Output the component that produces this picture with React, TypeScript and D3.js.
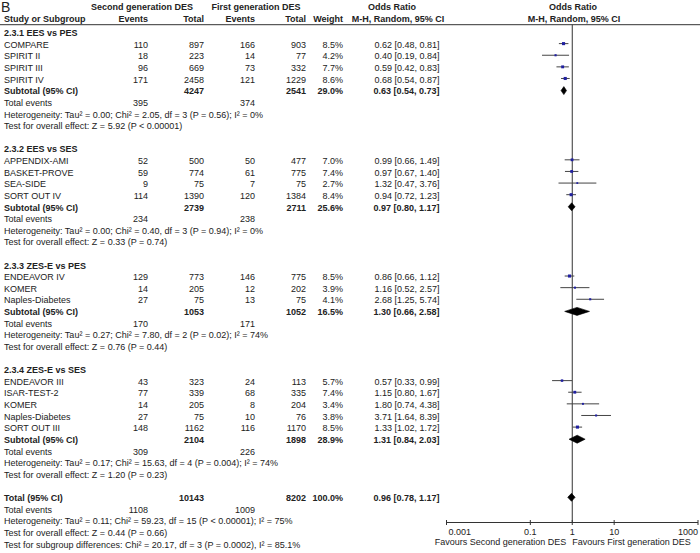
import React from 'react';
import * as d3 from 'd3';

const groupTitles = ['2.3.1 EES vs PES', '2.3.2 EES vs SES', '2.3.3 ZES-E vs PES', '2.3.4 ZES-E vs SES'];
const studyNames = ['COMPARE', 'SPIRIT II', 'SPIRIT III', 'SPIRIT IV', 'APPENDIX-AMI', 'BASKET-PROVE', 'SEA-SIDE', 'SORT OUT IV', 'ENDEAVOR IV', 'KOMER', 'Naples-Diabetes', 'ENDEAVOR III', 'ISAR-TEST-2', 'KOMER', 'Naples-Diabetes', 'SORT OUT III'];
const studyGroup = [0, 0, 0, 0, 1, 1, 1, 1, 2, 2, 2, 3, 3, 3, 3, 3];
const eventsSecond = [110, 18, 96, 171, 52, 59, 9, 114, 129, 14, 27, 43, 77, 14, 27, 148];
const totalSecond = [897, 223, 669, 2458, 500, 774, 75, 1390, 773, 205, 75, 323, 339, 205, 75, 1162];
const eventsFirst = [166, 14, 73, 121, 50, 61, 7, 120, 146, 12, 13, 24, 68, 8, 10, 116];
const totalFirst = [903, 77, 332, 1229, 477, 775, 75, 1384, 775, 202, 75, 113, 335, 204, 76, 1170];
const weights = [8.5, 4.2, 7.7, 8.6, 7.0, 7.4, 2.7, 8.4, 8.5, 3.9, 4.1, 5.7, 7.4, 3.4, 3.8, 8.5];
const oddsRatio = [0.62, 0.40, 0.59, 0.68, 0.99, 0.97, 1.32, 0.94, 0.86, 1.16, 2.68, 0.57, 1.15, 1.80, 3.71, 1.33];
const ciLower = [0.48, 0.19, 0.42, 0.54, 0.66, 0.67, 0.47, 0.72, 0.66, 0.52, 1.25, 0.33, 0.80, 0.74, 1.64, 1.02];
const ciUpper = [0.81, 0.84, 0.83, 0.87, 1.49, 1.40, 3.76, 1.23, 1.12, 2.57, 5.74, 0.99, 1.67, 4.38, 8.39, 1.72];

const subTotalSecond = [4247, 2739, 1053, 2104];
const subTotalFirst = [2541, 2711, 1052, 1898];
const subWeight = [29.0, 25.6, 16.5, 28.9];
const subOR = [0.63, 0.97, 1.30, 1.31];
const subLower = [0.54, 0.80, 0.66, 0.84];
const subUpper = [0.73, 1.17, 2.58, 2.03];
const subEventsSecond = [395, 234, 170, 309];
const subEventsFirst = [374, 238, 171, 226];
const subHeterogeneity = [
  'Heterogeneity: Tau² = 0.00; Chi² = 2.05, df = 3 (P = 0.56); I² = 0%',
  'Heterogeneity: Tau² = 0.00; Chi² = 0.40, df = 3 (P = 0.94); I² = 0%',
  'Heterogeneity: Tau² = 0.27; Chi² = 7.80, df = 2 (P = 0.02); I² = 74%',
  'Heterogeneity: Tau² = 0.17; Chi² = 15.63, df = 4 (P = 0.004); I² = 74%',
];
const subOverall = [
  'Test for overall effect: Z = 5.92 (P < 0.00001)',
  'Test for overall effect: Z = 0.33 (P = 0.74)',
  'Test for overall effect: Z = 0.76 (P = 0.44)',
  'Test for overall effect: Z = 1.20 (P = 0.23)',
];

const overallTotals = [10143, 8202];
const overallWeight = 100.0;
const overallOR = [0.96, 0.78, 1.17];
const overallEvents = [1108, 1009];
const overallTexts = [
  'Heterogeneity: Tau² = 0.11; Chi² = 59.23, df = 15 (P < 0.00001); I² = 75%',
  'Test for overall effect: Z = 0.44 (P = 0.66)',
  'Test for subgroup differences: Chi² = 20.17, df = 3 (P = 0.0002), I² = 85.1%',
];

const axisTicks = [0.001, 0.1, 1, 10, 1000];

const FONT = 'Liberation Sans, Arial, sans-serif';
const FS = 9;
const TXT = '#222';

type Row =
  | { kind: 'group'; k: number; label: string }
  | { kind: 'study'; k: number; i: number }
  | { kind: 'subtotal'; k: number; g: number }
  | { kind: 'events'; k: number; a: number; b: number }
  | { kind: 'note'; k: number; text: string }
  | { kind: 'total'; k: number };

function buildRows(): Row[] {
  const rows: Row[] = [];
  let k = 0;
  groupTitles.forEach((title, g) => {
    rows.push({ kind: 'group', k: k++, label: title });
    studyNames.forEach((_, i) => {
      if (studyGroup[i] === g) rows.push({ kind: 'study', k: k++, i });
    });
    rows.push({ kind: 'subtotal', k: k++, g });
    rows.push({ kind: 'events', k: k++, a: subEventsSecond[g], b: subEventsFirst[g] });
    rows.push({ kind: 'note', k: k++, text: subHeterogeneity[g] });
    rows.push({ kind: 'note', k: k++, text: subOverall[g] });
    k++;
  });
  rows.push({ kind: 'total', k: k++ });
  rows.push({ kind: 'events', k: k++, a: overallEvents[0], b: overallEvents[1] });
  overallTexts.forEach((t) => rows.push({ kind: 'note', k: k++, text: t }));
  return rows;
}

const fmtOR = (o: number, l: number, h: number) => `${o.toFixed(2)} [${l.toFixed(2)}, ${h.toFixed(2)}]`;
const fmtW = (w: number) => `${w.toFixed(1)}%`;

export default function App() {
  const W = 700;
  const H = 553;
  const rows = buildRows();
  const maxK = d3.max(rows, (r) => r.k) as number;
  const yScale = d3.scaleLinear().domain([0, maxK]).range([33, 544.3]);
  const x = d3.scaleLog().domain([0.001, 1000]).range([446.5, 698]);

  const col = { name: 4, ev2: 148, tot2: 204, ev1: 255, tot1: 306, w: 343, or: 439.5 };
  const base = (k: number) => yScale(k) + 3.2;
  const markY = (k: number) => yScale(k) - 1;
  const axisY = 522.5;
  const headLineY = 24.7;

  const T = (props: any) => (
    <text fontFamily={FONT} fontSize={FS} fill={TXT} {...props} />
  );

  const diamond = (cy: number, o: number, l: number, h: number) => {
    const hh = 4;
    const pts = [
      [x(l), cy],
      [x(o), cy - hh],
      [x(h), cy],
      [x(o), cy + hh],
    ];
    return <path d={d3.line()(pts as [number, number][]) + 'Z'} fill="#000" stroke="#000" strokeWidth={0.6} />;
  };

  const elems: React.ReactNode[] = [];
  rows.forEach((r, idx) => {
    const yb = base(r.k);
    const ym = markY(r.k);
    if (r.kind === 'group') {
      elems.push(<T key={idx} x={col.name} y={yb} fontWeight="bold">{r.label}</T>);
    } else if (r.kind === 'study') {
      const i = r.i;
      const s = 1.2 + weights[i] * 0.22;
      elems.push(
        <g key={idx}>
          <T x={col.name} y={yb}>{studyNames[i]}</T>
          <T x={col.ev2} y={yb} textAnchor="end">{eventsSecond[i]}</T>
          <T x={col.tot2} y={yb} textAnchor="end">{totalSecond[i]}</T>
          <T x={col.ev1} y={yb} textAnchor="end">{eventsFirst[i]}</T>
          <T x={col.tot1} y={yb} textAnchor="end">{totalFirst[i]}</T>
          <T x={col.w} y={yb} textAnchor="end">{fmtW(weights[i])}</T>
          <T x={col.or} y={yb} textAnchor="end">{fmtOR(oddsRatio[i], ciLower[i], ciUpper[i])}</T>
          <line x1={x(ciLower[i])} x2={x(ciUpper[i])} y1={ym} y2={ym} stroke="#444" strokeWidth={1} />
          <rect x={x(oddsRatio[i]) - s / 2} y={ym - s / 2} width={s} height={s} fill="#2020a0" />
        </g>
      );
    } else if (r.kind === 'subtotal') {
      const g = r.g;
      elems.push(
        <g key={idx}>
          <T x={col.name} y={yb} fontWeight="bold">Subtotal (95% CI)</T>
          <T x={col.tot2} y={yb} textAnchor="end" fontWeight="bold">{subTotalSecond[g]}</T>
          <T x={col.tot1} y={yb} textAnchor="end" fontWeight="bold">{subTotalFirst[g]}</T>
          <T x={col.w} y={yb} textAnchor="end" fontWeight="bold">{fmtW(subWeight[g])}</T>
          <T x={col.or} y={yb} textAnchor="end" fontWeight="bold">{fmtOR(subOR[g], subLower[g], subUpper[g])}</T>
          {diamond(yScale(r.k) - 0.5, subOR[g], subLower[g], subUpper[g])}
        </g>
      );
    } else if (r.kind === 'events') {
      elems.push(
        <g key={idx}>
          <T x={col.name} y={yb}>Total events</T>
          <T x={col.ev2} y={yb} textAnchor="end">{r.a}</T>
          <T x={col.ev1} y={yb} textAnchor="end">{r.b}</T>
        </g>
      );
    } else if (r.kind === 'note') {
      elems.push(<T key={idx} x={col.name} y={yb}>{r.text}</T>);
    } else if (r.kind === 'total') {
      elems.push(
        <g key={idx}>
          <T x={col.name} y={yb} fontWeight="bold">Total (95% CI)</T>
          <T x={col.tot2} y={yb} textAnchor="end" fontWeight="bold">{overallTotals[0]}</T>
          <T x={col.tot1} y={yb} textAnchor="end" fontWeight="bold">{overallTotals[1]}</T>
          <T x={col.w} y={yb} textAnchor="end" fontWeight="bold">{fmtW(overallWeight)}</T>
          <T x={col.or} y={yb} textAnchor="end" fontWeight="bold">{fmtOR(overallOR[0], overallOR[1], overallOR[2])}</T>
          {diamond(yScale(r.k) - 0.5, overallOR[0], overallOR[1], overallOR[2])}
        </g>
      );
    }
  });

  const tickAnchor = (i: number) => (i === 0 ? 'start' : i === axisTicks.length - 1 ? 'end' : 'middle');

  return (
    <svg width={W} height={H} style={{ position: 'absolute', left: 0, top: 0, background: '#fff' }}>
      <rect x={0} y={0} width={W} height={H} fill="#fff" />
      <text x={1} y={12} fontFamily={FONT} fontSize={14} fill={TXT}>B</text>
      {/* header row 1 */}
      <T x={142} y={9.5} textAnchor="middle" fontWeight="bold">Second generation DES</T>
      <T x={256} y={9.5} textAnchor="middle" fontWeight="bold">First generation DES</T>
      <T x={392} y={9.5} textAnchor="middle" fontWeight="bold">Odds Ratio</T>
      <T x={573} y={9.5} textAnchor="middle" fontWeight="bold">Odds Ratio</T>
      {/* header row 2 */}
      <T x={col.name} y={22} fontWeight="bold">Study or Subgroup</T>
      <T x={col.ev2} y={22} textAnchor="end" fontWeight="bold">Events</T>
      <T x={col.tot2} y={22} textAnchor="end" fontWeight="bold">Total</T>
      <T x={col.ev1} y={22} textAnchor="end" fontWeight="bold">Events</T>
      <T x={col.tot1} y={22} textAnchor="end" fontWeight="bold">Total</T>
      <T x={col.w} y={22} textAnchor="end" fontWeight="bold">Weight</T>
      <T x={398} y={22} textAnchor="middle" fontWeight="bold">M-H, Random, 95% CI</T>
      <T x={574} y={22} textAnchor="middle" fontWeight="bold">M-H, Random, 95% CI</T>
      <line x1={0} x2={W} y1={headLineY} y2={headLineY} stroke="#333" strokeWidth={1} />
      {/* null line */}
      <line x1={x(1)} x2={x(1)} y1={headLineY} y2={axisY} stroke="#333" strokeWidth={1} />
      {elems}
      {/* axis */}
      <line x1={x(0.001)} x2={x(1000)} y1={axisY} y2={axisY} stroke="#333" strokeWidth={1} />
      {axisTicks.map((t, i) => (
        <g key={t}>
          <line x1={x(t)} x2={x(t)} y1={axisY - 2.5} y2={axisY + 2.5} stroke="#333" strokeWidth={1} />
          <T x={x(t) + (i === 0 ? 2 : 0)} y={534.5} textAnchor={tickAnchor(i)}>{String(t)}</T>
        </g>
      ))}
      <T x={x(1) - 6} y={544.5} textAnchor="end">Favours Second generation DES</T>
      <T x={x(1)} y={544.5} textAnchor="start">Favours First generation DES</T>
    </svg>
  );
}
